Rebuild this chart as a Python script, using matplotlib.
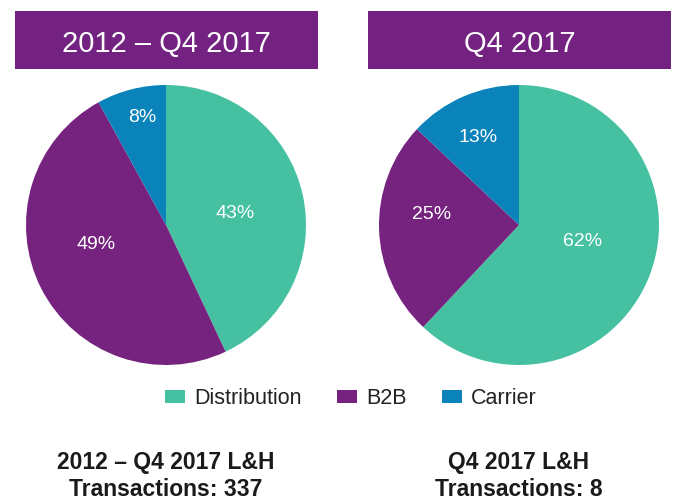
import matplotlib
matplotlib.use("Agg")
import matplotlib.pyplot as plt
from matplotlib.patches import Rectangle
import numpy as np

plt.rcParams['font.family'] = ['Liberation Sans', 'DejaVu Sans']

# Deal mix by segment
categories = ["Distribution", "B2B", "Carrier"]
colors = ["#45C1A2", "#76237F", "#0A82BA"]

period_titles = ["2012 \u2013 Q4 2017", "Q4 2017"]
all_time_shares = [43, 49, 8]
q4_shares = [62, 25, 13]
footer_labels = ["2012 \u2013 Q4 2017 L&H\nTransactions: 337",
                 "Q4 2017 L&H\nTransactions: 8"]

W, H = 677, 501
fig = plt.figure(figsize=(W / 100, H / 100), dpi=100)
fig.patch.set_facecolor("white")

header_purple = "#742282"

def px_box(x0, y0, x1, y1):
    """Convert a pixel box (top-left origin) into figure fraction rect."""
    return [x0 / W, 1 - y1 / H, (x1 - x0) / W, (y1 - y0) / H]

# Pie layout: centre/radius in pixels, plus per-slice label placement
# (angle nudge from slice middle in degrees, radius as fraction of pie radius)
pies = [
    dict(cx=166, cy=225, r=140, values=all_time_shares,
         lab_da=[-3.5, -11.8, -1.9], lab_r=[0.50, 0.52, 0.79]),
    dict(cx=519, cy=225, r=140, values=q4_shares,
         lab_da=[7.1, -8.8, 1.6], lab_r=[0.47, 0.63, 0.69]),
]
headers = [(15, 11, 318, 69), (368, 11, 671, 69)]

wedge_handles = None
for i, p in enumerate(pies):
    # header band
    x0, y0, x1, y1 = headers[i]
    fig.patches.append(Rectangle((x0 / W, 1 - y1 / H), (x1 - x0) / W, (y1 - y0) / H,
                                 transform=fig.transFigure, facecolor=header_purple,
                                 edgecolor="none"))
    fig.text((x0 + x1) / 2 / W, 1 - 41 / H, period_titles[i],
             color="white", fontsize=21, ha="center", va="center_baseline")

    ax = fig.add_axes(px_box(p["cx"] - p["r"], p["cy"] - p["r"],
                             p["cx"] + p["r"], p["cy"] + p["r"]))
    wedges, _ = ax.pie(p["values"], colors=colors, startangle=90,
                       counterclock=False, radius=1,
                       wedgeprops=dict(linewidth=0))
    for w, v, da, rr in zip(wedges, p["values"], p["lab_da"], p["lab_r"]):
        ang = np.deg2rad((w.theta1 + w.theta2) / 2 + da)
        ax.text(rr * np.cos(ang), rr * np.sin(ang), f"{v}%", color="white",
                fontsize=14, ha="center", va="center")
    ax.set_xlim(-1, 1)
    ax.set_ylim(-1, 1)
    ax.set_aspect("equal")
    ax.axis("off")
    if wedge_handles is None:
        wedge_handles = wedges

    fig.text(p["cx"] / W, 1 - 476 / H, footer_labels[i], color="#1a1a1a",
             fontsize=16.5, fontweight="bold", ha="center", va="center",
             linespacing=1.2)

leg = fig.legend(wedge_handles, categories, loc="center",
                 bbox_to_anchor=(351 / W, 1 - 399 / H), ncol=3, frameon=False,
                 fontsize=15.5, handlelength=0.93, handleheight=0.56,
                 handletextpad=0.42, columnspacing=1.63, borderpad=0)
for t in leg.get_texts():
    t.set_color("#222222")

fig.savefig("out.png", dpi=100, facecolor="white")
